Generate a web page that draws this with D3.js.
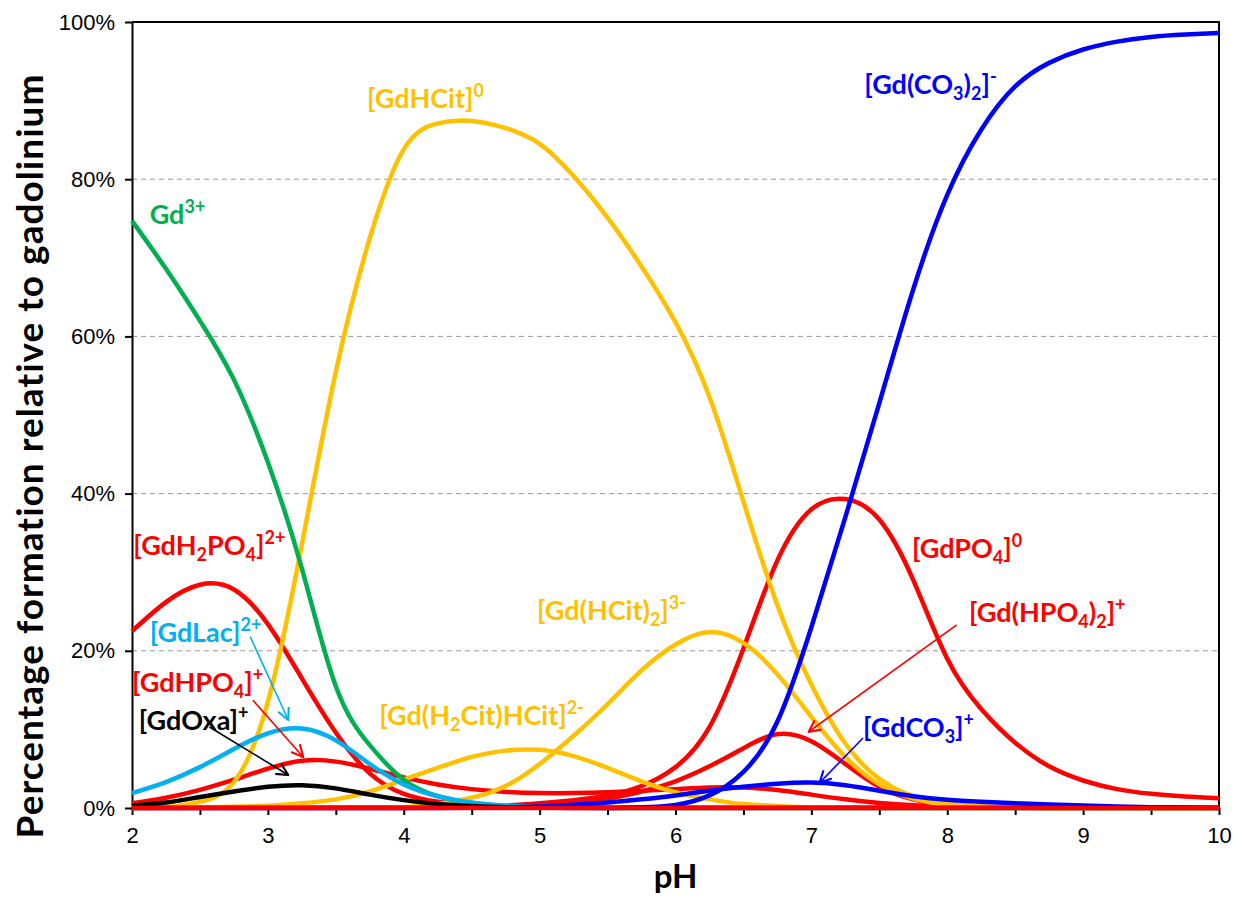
<!DOCTYPE html>
<html>
<head>
<meta charset="utf-8">
<title>Gadolinium speciation vs pH</title>
<script src="https://cdn.jsdelivr.net/npm/d3@7"></script>
<style>
  body { margin: 0; background: #fff; }
  svg { font-family: Lato, 'Open Sans', sans-serif; }
  .grid line { stroke: #9a9a9a; stroke-width: 1; stroke-dasharray: 5,4; }
  .axis path, .axis line { stroke: #000; stroke-width: 2; }
  .axis text { font-size: 22px; fill: #000; }
  .series { fill: none; stroke-width: 4.5; stroke-linejoin: round; }
</style>
</head>
<body>
<svg id="chart" width="1238" height="902"></svg>
<script>
// pH grid and % of Gd for each species
const ph = [2, 2.25, 2.5, 2.75, 3, 3.25, 3.5, 3.75, 4, 4.25, 4.5, 4.75, 5, 5.25, 5.5, 5.75, 6, 6.25, 6.5, 6.75, 7, 7.25, 7.5, 7.75, 8, 8.25, 8.5, 8.75, 9, 9.25, 9.5, 9.75, 10];

const gd3 =         [74.7, 68.6, 62, 54.5, 44, 30.5, 15.5, 8, 3.6, 1.5, 0.6, 0.25, 0.1, 0.05, 0, 0, 0, 0, 0, 0, 0, 0, 0, 0, 0, 0, 0, 0, 0, 0, 0, 0, 0];
const gdHCit =      [0, 0.1, 0.8, 3.3, 13.5, 33.5, 55.5, 72.5, 83.8, 87.1, 87.4, 86.5, 84.5, 80.4, 75.1, 68.9, 61.8, 52.3, 39, 25.8, 15.7, 8.2, 3.7, 1.5, 0.6, 0.2, 0.05, 0, 0, 0, 0, 0, 0];
const gdHCit2 =     [0, 0, 0, 0, 0, 0, 0, 0, 0.1, 0.5, 1.3, 2.8, 5.6, 9.2, 13.2, 17.5, 20.8, 22.4, 21, 17, 11.6, 6.5, 3, 1.2, 0.4, 0.15, 0.05, 0, 0, 0, 0, 0, 0];
const gdH2CitHCit = [0, 0, 0.05, 0.15, 0.3, 0.6, 1.1, 2.1, 3.6, 5.1, 6.5, 7.3, 7.4, 6.6, 5.1, 3.4, 2, 1.1, 0.5, 0.25, 0.1, 0.05, 0, 0, 0, 0, 0, 0, 0, 0, 0, 0, 0];
const gdLac =       [1.9, 3.3, 5.2, 7.5, 9.5, 10.1, 8.6, 5.6, 3, 1.5, 0.7, 0.3, 0.1, 0.05, 0, 0, 0, 0, 0, 0, 0, 0, 0, 0, 0, 0, 0, 0, 0, 0, 0, 0, 0];
const gdOxa =       [0.3, 0.7, 1.4, 2.1, 2.7, 2.9, 2.5, 1.7, 1, 0.5, 0.25, 0.1, 0.05, 0, 0, 0, 0, 0, 0, 0, 0, 0, 0, 0, 0, 0, 0, 0, 0, 0, 0, 0, 0];
const gdH2PO4 =     [22.5, 26.2, 28.4, 27.8, 23.4, 16.5, 9.6, 4.4, 1.8, 0.8, 0.35, 0.15, 0.05, 0, 0, 0, 0, 0, 0, 0, 0, 0, 0, 0, 0, 0, 0, 0, 0, 0, 0, 0, 0];
const gdHPO4 =      [0.6, 1.3, 2.3, 3.6, 5, 6, 5.9, 5, 3.9, 3, 2.4, 2.05, 1.9, 1.9, 2, 2.2, 2.4, 2.6, 2.6, 2.3, 1.7, 1.1, 0.65, 0.35, 0.2, 0.1, 0.05, 0, 0, 0, 0, 0, 0];
const gdPO4 =       [0, 0, 0, 0, 0, 0, 0, 0, 0, 0.05, 0.15, 0.3, 0.6, 1, 1.6, 2.8, 5.2, 10.3, 20.3, 31.5, 38, 39.3, 36.7, 29, 19, 12.6, 8.3, 5.3, 3.5, 2.4, 1.8, 1.45, 1.25];
const gdHPO4_2 =    [0, 0, 0, 0, 0, 0, 0, 0, 0, 0, 0.1, 0.2, 0.4, 0.7, 1.2, 2.1, 3.4, 5.3, 7.6, 9.4, 8.5, 5.6, 2.7, 1.1, 0.4, 0.15, 0.05, 0, 0, 0, 0, 0, 0];
const redFlat =     [0, 0, 0, 0, 0, 0, 0, 0, 0, 0, 0, 0, 0, 0, 0, 0, 0, 0, 0, 0, 0, 0, 0, 0, 0, 0, 0, 0, 0, 0, 0, 0, 0];
const gdCO3 =       [0, 0, 0, 0, 0, 0, 0, 0, 0, 0, 0.05, 0.1, 0.2, 0.4, 0.7, 1.1, 1.6, 2.2, 2.7, 3.1, 3.25, 2.9, 2.2, 1.5, 1.05, 0.8, 0.6, 0.45, 0.33, 0.2, 0.1, 0.05, 0];
const gdCO3_2 =     [0, 0, 0, 0, 0, 0, 0, 0, 0, 0, 0, 0, 0, 0, 0, 0.1, 0.4, 1.6, 4.6, 11, 23, 37, 51.5, 66, 78, 86.3, 91.8, 94.8, 96.5, 97.5, 98.1, 98.4, 98.6];

const xTicks = [2, 2.5, 3, 3.5, 4, 4.5, 5, 5.5, 6, 6.5, 7, 7.5, 8, 8.5, 9, 9.5, 10];
const yTicks = [0, 20, 40, 60, 80, 100];

const RED = '#ff0000', YEL = '#ffc000', BLUE = '#0000ff', GREEN = '#00b050', CYAN = '#00b0f0', BLACK = '#000000';

// drawing order: reds under yellows, blue on top, flat red last
const series = [
  {values: gdH2PO4, color: RED},
  {values: gdHPO4, color: RED},
  {values: gdPO4, color: RED},
  {values: gdHPO4_2, color: RED},
  {values: gdH2CitHCit, color: YEL},
  {values: gdHCit2, color: YEL},
  {values: gdHCit, color: YEL},
  {values: gd3, color: GREEN},
  {values: gdLac, color: CYAN},
  {values: gdOxa, color: BLACK},
  {values: gdCO3, color: BLUE},
  {values: gdCO3_2, color: BLUE},
  {values: redFlat, color: RED}
];

// labels: position in data units (pH, %), text parts [text, 'sub'|'sup'|undefined]
const labels = [
  {ph: 3.73, pct: 89.1, color: YEL, parts: [['[GdHCit]'], ['0', 'sup']]},
  {ph: 7.39, pct: 90.8, color: BLUE, parts: [['[Gd(CO'], ['3', 'sub'], [')'], ['2', 'sub'], [']'], ['-', 'sup']]},
  {ph: 2.13, pct: 74.3, color: GREEN, parts: [['Gd'], ['3+', 'sup']]},
  {ph: 2.01, pct: 32.2, color: RED, parts: [['[GdH'], ['2', 'sub'], ['PO'], ['4', 'sub'], [']'], ['2+', 'sup']]},
  {ph: 7.74, pct: 31.8, color: RED, parts: [['[GdPO'], ['4', 'sub'], [']'], ['0', 'sup']]},
  {ph: 4.98, pct: 23.9, color: YEL, parts: [['[Gd(HCit)'], ['2', 'sub'], [']'], ['3-', 'sup']]},
  {ph: 8.16, pct: 23.7, color: RED, parts: [['[Gd(HPO'], ['4', 'sub'], [')'], ['2', 'sub'], [']'], ['+', 'sup']]},
  {ph: 2.13, pct: 21.1, color: CYAN, parts: [['[GdLac]'], ['2+', 'sup']]},
  {ph: 2.0, pct: 14.8, color: RED, parts: [['[GdHPO'], ['4', 'sub'], [']'], ['+', 'sup']]},
  {ph: 2.05, pct: 9.9, color: BLACK, parts: [['[GdOxa]'], ['+', 'sup']]},
  {ph: 3.82, pct: 10.6, color: YEL, parts: [['[Gd(H'], ['2', 'sub'], ['Cit)HCit]'], ['2-', 'sup']]},
  {ph: 7.38, pct: 9.0, color: BLUE, parts: [['[GdCO'], ['3', 'sub'], [']'], ['+', 'sup']]}
];

// arrows from label to curve: [pH, %] start and end
const arrows = [
  {from: [2.87, 21.8], to: [3.15, 11.2], color: CYAN},
  {from: [2.89, 13.7], to: [3.26, 6.5], color: RED},
  {from: [2.57, 10.3], to: [3.15, 4.2], color: BLACK},
  {from: [8.07, 23.3], to: [6.98, 9.7], color: RED},
  {from: [7.38, 8.9], to: [7.06, 3.2], color: BLUE}
];

const margin = {left: 132, right: 19, top: 22, bottom: 94};
const width = 1238, height = 902;

const x = d3.scaleLinear().domain([2, 10]).range([margin.left, width - margin.right]);
const y = d3.scaleLinear().domain([0, 100]).range([height - margin.bottom, margin.top]);

const svg = d3.select('#chart');

// dashed grid
svg.append('g').attr('class', 'grid')
  .selectAll('line').data(yTicks.filter(d => d > 0 && d < 100)).join('line')
  .attr('x1', x(2)).attr('x2', x(10))
  .attr('y1', d => y(d)).attr('y2', d => y(d));

// frame top/right
svg.append('path')
  .attr('d', `M${x(2)},${y(100)}H${x(10)}V${y(0)}`)
  .attr('fill', 'none').attr('stroke', '#000').attr('stroke-width', 2);

// axes (drawn before the curves so the flat red line sits on top of the baseline)
svg.append('g').attr('class', 'axis')
  .attr('transform', `translate(0,${y(0)})`)
  .call(d3.axisBottom(x).tickValues(xTicks).tickSize(7).tickSizeOuter(0).tickPadding(12)
    .tickFormat(d => Number.isInteger(d) ? d : ''));

svg.append('g').attr('class', 'axis')
  .attr('transform', `translate(${x(2)},0)`)
  .call(d3.axisLeft(y).tickValues(yTicks).tickSize(7).tickSizeOuter(0).tickPadding(10)
    .tickFormat(d => d + '%'));

const line = d3.line()
  .x((d, i) => x(ph[i]))
  .y(d => y(d))
  .curve(d3.curveNatural);

// clip so any spline undershoot below 0 % stays hidden
svg.append('clipPath').attr('id', 'plot')
  .append('rect').attr('x', x(2) - 3).attr('y', y(100) - 3)
  .attr('width', x(10) - x(2) + 6).attr('height', y(0) - y(100) + 5.5);

svg.append('g').attr('clip-path', 'url(#plot)')
  .selectAll('path').data(series).join('path')
  .attr('class', 'series')
  .attr('stroke', d => d.color)
  .attr('d', d => line(d.values));

// axis titles
svg.append('text')
  .attr('x', (x(2) + x(10)) / 2).attr('y', 888)
  .attr('text-anchor', 'middle')
  .style('font-size', '33px').style('font-weight', 700)
  .text('pH');

svg.append('text')
  .attr('transform', `translate(43,456) rotate(-90)`)
  .attr('text-anchor', 'middle')
  .style('font-size', '37px').style('font-weight', 700)
  .style('letter-spacing', '1px')
  .text('Percentage formation relative to gadolinium');

// arrow markers
const defs = svg.append('defs');
[RED, BLUE, CYAN, BLACK].forEach(c => {
  defs.append('marker')
    .attr('id', 'arr' + c.slice(1))
    .attr('viewBox', '0 0 12 12').attr('refX', 11).attr('refY', 6)
    .attr('markerWidth', 14).attr('markerHeight', 14)
    .attr('markerUnits', 'userSpaceOnUse').attr('orient', 'auto')
    .append('path').attr('d', 'M1,1 L11,6 L1,11')
    .attr('fill', 'none').attr('stroke', c).attr('stroke-width', 1.8);
});

svg.append('g').selectAll('line').data(arrows).join('line')
  .attr('x1', d => x(d.from[0])).attr('y1', d => y(d.from[1]))
  .attr('x2', d => x(d.to[0])).attr('y2', d => y(d.to[1]))
  .attr('stroke', d => d.color).attr('stroke-width', 1.6)
  .attr('marker-end', d => `url(#arr${d.color.slice(1)})`);

// species labels with sub/superscripts
labels.forEach(lab => {
  const t = svg.append('text')
    .attr('x', x(lab.ph)).attr('y', y(lab.pct))
    .attr('fill', lab.color)
    .style('font-size', '27px').style('font-weight', 700);
  let shift = 0;
  lab.parts.forEach(([s, kind]) => {
    const target = kind === 'sub' ? 6 : kind === 'sup' ? -11 : 0;
    t.append('tspan')
      .attr('dy', target - shift)
      .style('font-size', kind ? '18px' : null)
      .text(s);
    shift = target;
  });
});
</script>
</body>
</html>
